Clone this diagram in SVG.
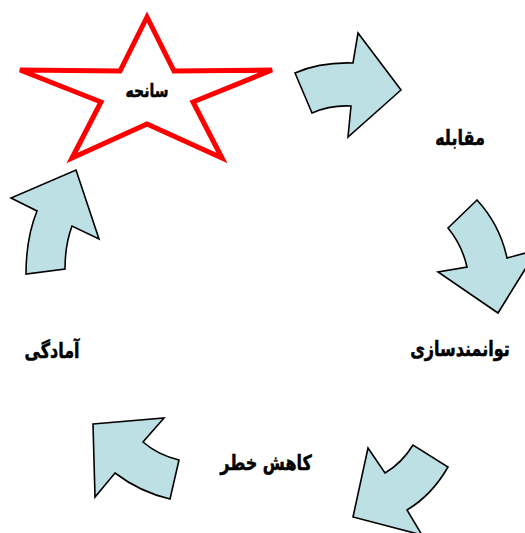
<svg xmlns="http://www.w3.org/2000/svg" width="525" height="533" viewBox="0 0 525 533">
<style>
.arrow{fill:#bde0e4;stroke:#000;stroke-width:1.6;stroke-linejoin:miter}
.lbl{font-family:"DejaVu Sans","Noto Sans",sans-serif;font-weight:bold;font-size:16px;fill:#000;stroke:#000;stroke-width:0.4;text-anchor:middle;direction:rtl}
</style>
<rect width="525" height="533" fill="#fff"/>
<g id="star">
<polygon points="147,17 174,71 272,70 193,102 222,158 147,124 72,158 101,102 20,70 120,71" fill="#fff" stroke="#ff0000" stroke-width="5" stroke-linejoin="miter"/>
<text class="lbl" transform="translate(147,97) scale(1,1.3)" style="font-size:14px">سانحه</text>
</g>
<g id="connectors">
<path class="arrow" d="M295,73 Q320,62 353,63 L358,33 L401,90 L348,137 L351,106 Q330,105 312,113 Z"/>
<path class="arrow" d="M477,200 L448,228 Q462,245 467,267 L438,272 L498,313 L537,250 L507,258 Q500,225 477,200 Z"/>
<path class="arrow" d="M368,448 L385,473 Q402,463 413,445 L448,467 Q432,495 407,510 L422,535 L353,517 Z"/>
<path class="arrow" d="M93,424 L164,418 L143,442 Q158,455 179,460 L170,499 Q140,492 115,473 L95,497 Z"/>
<path class="arrow" d="M76,170 L99,239 L72,226 Q65,245 65,269 L26,274 Q26,238 37,211 L11,198 Z"/>
</g>
<g id="n-moqabele"><text class="lbl" transform="translate(460,145) scale(1,1.3)">مقابله</text></g>
<g id="n-tavanmandsazi"><text class="lbl" transform="translate(460,356) scale(1,1.3)">توانمندسازی</text></g>
<g id="n-kahesh"><text class="lbl" transform="translate(266,470) scale(1,1.3)">کاهش خطر</text></g>
<g id="n-amadegi"><text class="lbl" transform="translate(52,358) scale(1,1.3)">آمادگی</text></g>
</svg>
